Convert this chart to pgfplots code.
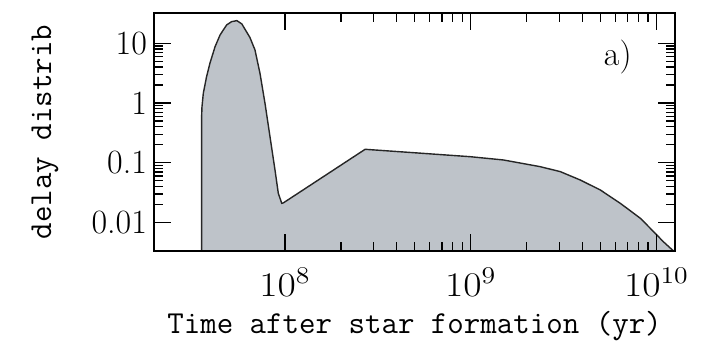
\documentclass[border=0pt]{standalone}
\usepackage{pgfplots}
\pgfplotsset{compat=1.18}
\definecolor{fillgray}{RGB}{190,195,201}
\begin{document}
\begin{tikzpicture}
\begin{axis}[
  xmode=log, ymode=log,
  scale only axis, width=260.5pt, height=119pt,
  xmin=1.97e7, xmax=1.26e10,
  ymin=0.00332, ymax=32.1,
  xtick={1e8,1e9,1e10},
  ytick={0.01,0.1,1,10},
  yticklabels={0.01,0.1,1,10},
  tick align=inside,
  major tick length=8.5pt, minor tick length=4.5pt,
  every tick/.style={black, line width=0.6pt},
  axis line style={line width=1pt},
  axis on top,
  tick label style={font=\fontsize{17}{20}\selectfont},
  xticklabel style={yshift=-5pt, xscale=1.15},
  xlabel={Time after star formation (yr)},
  ylabel={delay distrib},
  label style={font=\ttfamily\fontsize{16}{19}\selectfont},
  xlabel style={at={(axis description cs:0.5,-0.315)}, anchor=center},
  ylabel style={at={(axis description cs:-0.209,0.5)}, anchor=center},
]
\addplot[draw=black!85, line width=0.7pt, fill=fillgray] coordinates {
(3.556e7,0.003)
(3.556e7,0.6)
(3.57e7,0.857)
(3.63e7,1.45)
(3.78e7,2.76)
(3.94e7,4.62)
(4.20e7,8.77)
(4.47e7,13.8)
(4.85e7,20.3)
(5.16e7,23.0)
(5.50e7,23.9)
(5.85e7,21.1)
(6.47e7,12.5)
(6.89e7,7.73)
(7.33e7,3.14)
(7.80e7,0.989)
(8.30e7,0.272)
(8.83e7,0.0755)
(9.20e7,0.0307)
(9.60e7,0.0209)
(9.79e7,0.0212)
(2.70e8,0.1675)
(4.92e8,0.147)
(9.93e8,0.126)
(1.50e9,0.111)
(2.37e9,0.0857)
(3.04e9,0.0707)
(3.89e9,0.0513)
(4.99e9,0.0349)
(6.39e9,0.0209)
(8.20e9,0.0117)
(9.67e9,0.00698)
(1.09e10,0.00475)
(1.22e10,0.00345)
(1.26e10,0.00322)
(1.26e10,0.003)
} -- cycle;
\node[font=\fontsize{17}{20}\selectfont] at (axis description cs:0.89,0.815) {a)};
\coordinate (ll) at (rel axis cs:0,0);
\coordinate (ur) at (rel axis cs:1,1);
\end{axis}
\pgfresetboundingbox
\path[use as bounding box] ([xshift=-77pt,yshift=-48pt]ll) rectangle ([xshift=16.5pt,yshift=6.5pt]ur);
\end{tikzpicture}
\end{document}
